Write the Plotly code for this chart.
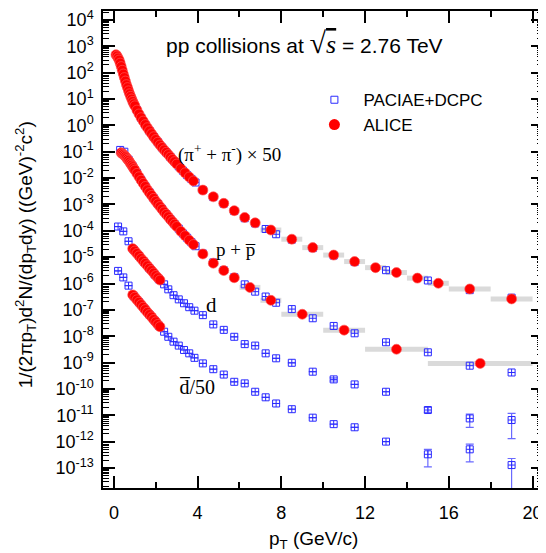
import plotly.graph_objects as go

# ---------------- data ----------------
# ALICE (pi+ + pi-) x 50
pi_alice_pt = [0.1, 0.15, 0.2, 0.25, 0.3, 0.35, 0.4, 0.45, 0.5, 0.55, 0.6, 0.65, 0.7, 0.75, 0.8, 0.85, 0.9, 0.95, 1.0,
               1.1, 1.2, 1.3, 1.4, 1.5, 1.6, 1.7, 1.8, 1.9, 2.0, 2.1, 2.2, 2.3, 2.4, 2.5, 2.6, 2.7, 2.8, 2.9, 3.0,
               3.2, 3.4, 3.6, 3.8,
               4.25, 4.75, 5.25, 5.75, 6.25, 6.75, 7.5, 8.5, 9.5, 10.5, 11.5, 12.5, 13.5, 14.5, 15.5, 17, 19]
pi_alice_y = [480, 430, 360, 300, 230, 170, 123, 89, 65, 48, 35, 27, 20.4, 15.8, 12.6, 10.0, 8.1, 6.6, 5.5,
              3.8, 2.7, 1.95, 1.45, 1.07, 0.81, 0.62, 0.48, 0.37, 0.29, 0.23, 0.18, 0.145, 0.117, 0.095, 0.078,
              0.063, 0.051, 0.042, 0.034,
              0.023, 0.0158, 0.011, 0.0078,
              0.0035, 0.00195, 0.0011, 5.8e-4, 3.2e-4, 2.0e-4, 1.07e-4, 4.8e-5, 2.3e-5, 1.2e-5, 6.8e-6, 4.0e-6,
              2.6e-6, 1.6e-6, 1.02e-6, 6.2e-7, 2.6e-7]
pi_alice_hi_edges = [4, 4.5, 5, 5.5, 6, 6.5, 7, 8, 9, 10, 11, 12, 13, 14, 15, 16, 18, 20]

# ALICE p + pbar
p_alice_pt = [0.35, 0.4, 0.45, 0.5, 0.55, 0.6, 0.65, 0.7, 0.75, 0.8, 0.85, 0.9, 0.95, 1.0,
              1.1, 1.2, 1.3, 1.4, 1.5, 1.6, 1.7, 1.8, 1.9, 2.0, 2.1, 2.2, 2.3, 2.4, 2.5, 2.6, 2.7, 2.8, 2.9, 3.0,
              3.2, 3.4, 3.6, 3.8,
              4.25, 4.75, 5.25, 5.75, 6.5, 7.5, 9, 11, 13.5, 17.5]
p_alice_y = [0.091, 0.085, 0.079, 0.072, 0.066, 0.059, 0.052, 0.047, 0.041, 0.035, 0.031, 0.027, 0.023, 0.020,
             0.015, 0.0112, 0.0083, 0.0063, 0.0048, 0.0036, 0.0028, 0.0022, 0.0017, 0.00132, 0.00105, 8.3e-4,
             6.6e-4, 5.2e-4, 4.2e-4, 3.4e-4, 2.7e-4, 2.2e-4, 1.78e-4, 1.45e-4,
             9.5e-5, 6.5e-5, 4.4e-5, 3.0e-5,
             1.32e-5, 5.9e-6, 3.1e-6, 1.66e-6, 7.1e-7, 2.3e-7, 6.8e-8, 1.7e-8, 3.2e-9, 9.3e-10]
p_alice_hi_edges = [4, 4.5, 5, 5.5, 6, 7, 8, 10, 12, 15, 20]

# ALICE d and dbar/50
d_alice_pt = [0.9, 1.0, 1.1, 1.2, 1.3, 1.4, 1.5, 1.6, 1.7, 1.8, 1.9, 2.0, 2.1, 2.2]
d_alice_y = [2.1e-5, 1.70e-5, 1.38e-5, 1.12e-5, 8.9e-6, 7.2e-6, 5.8e-6, 4.7e-6, 3.8e-6, 3.1e-6, 2.5e-6,
             2.0e-6, 1.66e-6, 1.35e-6]
dbar_alice_y = [3.7e-7, 3.0e-7, 2.4e-7, 1.95e-7, 1.58e-7, 1.26e-7, 1.02e-7, 8.1e-8, 6.6e-8, 5.4e-8, 4.3e-8,
                3.5e-8, 2.8e-8, 2.3e-8]

# PACIAE+DCPC
pac_pt = [0.3, 0.5, 0.7, 0.9, 1.1, 1.3, 1.5, 1.7, 1.9, 2.1, 2.3, 2.5, 2.7, 2.9, 3.1, 3.3, 3.5, 3.7, 3.9,
          4.25, 4.75, 5.25, 5.75, 6.25, 6.75, 7.25, 7.75, 8.5, 9.5, 10.5, 11.5, 13, 15, 17, 19]
pac_pi_y = [230, 65, 20, 8.1, 3.8, 1.95, 1.07, 0.62, 0.37, 0.23, 0.145, 0.095, 0.063, 0.042, 0.028, 0.019,
            0.013, 0.0093, 0.0068,
            0.0035, 0.0019, 0.00107, 5.6e-4, 3.0e-4, 1.9e-4, 1.17e-4, 7.4e-5, 4.6e-5, 2.2e-5, 1.15e-5, 6.5e-6,
            3.2e-6, 1.3e-6, 5.6e-7, 2.9e-7]
pac_p_y = [0.117, 0.100, 0.050, 0.028, 0.0158, 0.0087, 0.0049, 0.0029, 0.00174, 0.00107, 6.8e-4, 4.3e-4,
           2.75e-4, 1.8e-4, 1.2e-4, 7.9e-5, 5.4e-5, 3.7e-5, 2.6e-5,
           1.38e-5, 6.3e-6, 3.2e-6, 1.74e-6, 9.3e-7, 4.9e-7, 3.2e-7, 1.86e-7, 1.07e-7, 4.8e-8, 2.45e-8, 1.29e-8,
           5.9e-9, 2.45e-9, 7.6e-10, 4.2e-10]

pac_d_pt = [0.2, 0.45, 0.7, 0.95, 1.2, 1.45, 1.7, 1.95, 2.15, 2.4, 2.6, 2.85, 3.1, 3.35, 3.6, 3.85,
            4.25, 4.75, 5.25, 5.75, 6.25, 6.75, 7.25, 7.75, 8.5, 9.5, 10.5, 11.5, 13, 15, 17, 19]
pac_d_y = [1.45e-4, 9.5e-5, 4.0e-5, 1.9e-5, 1.12e-5, 6.5e-6, 3.8e-6, 2.2e-6, 1.45e-6, 9.3e-7, 6.0e-7, 3.6e-7,
           2.5e-7, 1.78e-7, 1.26e-7, 9.3e-8, 6.3e-8, 2.8e-8, 1.74e-8, 9.5e-9, 5.0e-9, 4.4e-9, 2.24e-9, 1.45e-9,
           9.8e-10, 4.5e-10, 2.3e-10, 1.48e-10, 7.8e-11, 1.58e-11, 7.6e-12, 6.6e-12]
pac_d_err_hi = [0] * 26 + [0.3e-10, 0, 0, 4e-12, 3.4e-12, 5.1e-12]
pac_d_err_lo = [0] * 26 + [0.3e-10, 0, 0, 3e-12, 4.1e-12, 5.3e-12]
pac_dbar_y = [3.0e-6, 1.7e-6, 8.3e-7, 3.3e-7, 1.95e-7, 1.12e-7, 6.6e-8, 3.9e-8, 2.5e-8, 1.48e-8, 9.5e-9,
              6.2e-9, 4.4e-9, 3.0e-9, 2.24e-9, 1.51e-9, 9.3e-10, 5.6e-10, 3.5e-10, 1.86e-10, 1.62e-10, 7.8e-11,
              4.8e-11, 2.8e-11, 1.7e-11, 8.1e-12, 4.6e-12, 3.5e-12, 1.0e-12, 3.3e-13, 5.1e-13, 1.29e-13]
pac_dbar_err_hi = [0] * 29 + [1.8e-13, 3.0e-13, 1.0e-13]
pac_dbar_err_lo = [0] * 29 + [2.2e-13, 3.4e-13, 1.28e-13]

y_tick_exp = list(range(-13, 5))
x_tick_vals = [0, 4, 8, 12, 16, 20]

# ---------------- figure ----------------
RED = "#ff0000"
BLUE = "#2a2aff"
GRAY = "#dadada"
SANS = "Liberation Sans"
SERIF = "Liberation Serif"

fig = go.Figure()


def band(pt, y, edges):
    half = [(edges[i + 1] - edges[i]) / 2 for i in range(len(edges) - 1)]
    n = len(half)
    fig.add_trace(go.Scatter(
        x=pt[-n:], y=y[-n:], mode="markers", showlegend=False, hoverinfo="skip",
        marker=dict(size=1, color="rgba(0,0,0,0)"),
        error_x=dict(type="data", array=half, color=GRAY, thickness=5, width=0)))


band(pi_alice_pt, pi_alice_y, pi_alice_hi_edges)
band(p_alice_pt, p_alice_y, p_alice_hi_edges)

pac_marker = dict(symbol="square-cross-open", size=7, color=BLUE, line=dict(width=1, color=BLUE))
for yy in (pac_pi_y, pac_p_y):
    fig.add_trace(go.Scatter(x=pac_pt, y=yy, mode="markers", marker=pac_marker, showlegend=False))
for yy, eh, el in ((pac_d_y, pac_d_err_hi, pac_d_err_lo), (pac_dbar_y, pac_dbar_err_hi, pac_dbar_err_lo)):
    fig.add_trace(go.Scatter(
        x=pac_d_pt, y=yy, mode="markers", marker=pac_marker, showlegend=False,
        error_y=dict(type="data", symmetric=False, array=eh, arrayminus=el,
                     color="#6a6aff", thickness=1.2, width=4)))

red_marker = dict(symbol="circle", size=10, color=RED, line=dict(width=0.8, color="rgba(255,90,90,0.8)"))
for xx, yy in ((pi_alice_pt, pi_alice_y), (p_alice_pt, p_alice_y), (d_alice_pt, d_alice_y),
               (d_alice_pt, dbar_alice_y)):
    fig.add_trace(go.Scatter(x=xx, y=yy, mode="markers", marker=red_marker, showlegend=False))

# legend entries
fig.add_trace(go.Scatter(x=[None], y=[None], mode="markers", name="PACIAE+DCPC", legend="legend",
                         marker=dict(symbol="square-open", size=7, color=BLUE, line=dict(width=1, color=BLUE))))
fig.add_trace(go.Scatter(x=[None], y=[None], mode="markers", name="ALICE", legend="legend2",
                         marker=dict(symbol="circle", size=11, color=RED)))

minor_vals = [k * 10.0 ** e for e in range(-14, 5) for k in range(2, 10)]

# the page body adds an 8px margin, so the figure is 8px smaller than the window
fig.update_layout(
    width=538, height=545,
    margin=dict(l=95, r=3, t=3, b=65, autoexpand=False),
    paper_bgcolor="white", plot_bgcolor="white",
    font=dict(family=SANS, size=17, color="black"),
    xaxis=dict(range=[-0.52, 20.5], showgrid=False, zeroline=False, automargin=False,
               showline=True, linecolor="black", linewidth=1.5, mirror="allticks",
               ticks="inside", ticklen=12, tickwidth=1.5, tickcolor="black",
               tickvals=x_tick_vals, ticktext=[str(v) for v in x_tick_vals],
               tickfont=dict(family=SANS, size=18), ticklabelstandoff=8, ticklabeloverflow="allow",
               minor=dict(ticks="inside", ticklen=6, tickwidth=1.5, tickcolor="black", dtick=2, tick0=0,
                          showgrid=False)),
    yaxis=dict(type="log", range=[-13.76, 4.34], showgrid=False, zeroline=False, automargin=False,
               showline=True, linecolor="black", linewidth=1.5, mirror="allticks",
               ticks="inside", ticklen=12, tickwidth=1.5, tickcolor="black",
               tickvals=[10.0 ** e for e in y_tick_exp],
               ticktext=["10<sup>%d</sup>" % e for e in y_tick_exp],
               tickfont=dict(family=SANS, size=18), ticklabelstandoff=4, ticklabeloverflow="allow",
               minor=dict(ticks="inside", ticklen=6, tickwidth=1.2, tickcolor="black",
                          tickvals=minor_vals, showgrid=False)),
    legend=dict(x=0.46, y=0.813, xanchor="left", yanchor="middle", bgcolor="rgba(0,0,0,0)",
                itemwidth=48, font=dict(family=SANS, size=17)),
    legend2=dict(x=0.46, y=0.761, xanchor="left", yanchor="middle", bgcolor="rgba(0,0,0,0)",
                 itemwidth=48, font=dict(family=SANS, size=17)),
)

annotations = [
    dict(text="pp collisions at <span style='font-family:Liberation Serif;font-size:30px'>√</span>"
              "<span style='font-family:Liberation Serif;font-size:26px;text-decoration:overline'><i>s</i></span>"
              " = 2.76 TeV",
         x=0.457, y=0.933, font=dict(family=SANS, size=21)),
    dict(text="(π<sup>+</sup> + π<sup>-</sup>) × 50", x=0.2886, y=0.702, font=dict(family=SERIF, size=19)),
    dict(text="p + p\u0305", x=0.30, y=0.499, font=dict(family=SERIF, size=19)),
    dict(text="d", x=0.2477, y=0.384, font=dict(family=SERIF, size=21)),
    dict(text="d\u0305/50", x=0.2136, y=0.212, font=dict(family=SERIF, size=20)),
    dict(text="1/(2πp<sub>T</sub>)d<sup>2</sup>N/(dp<sub>T</sub>dy) ((GeV)<sup>-2</sup>c<sup>2</sup>)",
         x=-0.177, y=0.488, textangle=-90, font=dict(family=SANS, size=19)),
    dict(text="p<sub>T</sub> (GeV/c)", x=0.4795, y=-0.109, font=dict(family=SANS, size=19)),
]
for a in annotations:
    a.update(xref="paper", yref="paper", showarrow=False, xanchor="center", yanchor="middle")
fig.update_layout(annotations=annotations)

fig.write_html("out.html")
